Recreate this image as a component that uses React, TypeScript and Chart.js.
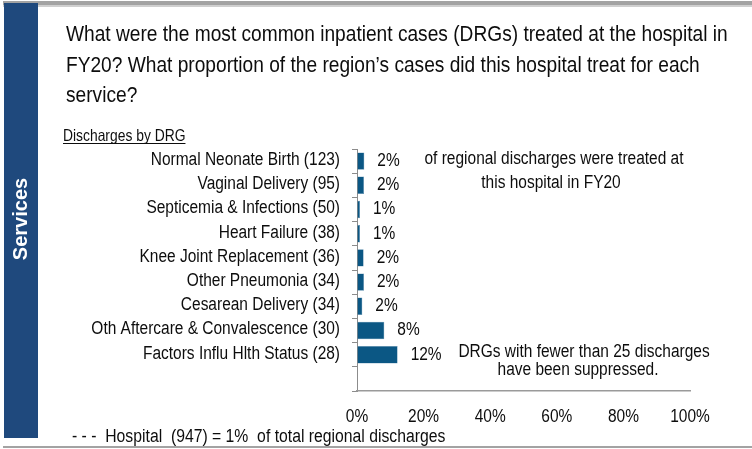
import React, { useEffect, useRef } from "react";
import { Chart, registerables } from "chart.js";

Chart.register(...registerables);

const categories = [
  "Normal Neonate Birth (123)",
  "Vaginal Delivery (95)",
  "Septicemia & Infections (50)",
  "Heart Failure (38)",
  "Knee Joint Replacement (36)",
  "Other Pneumonia (34)",
  "Cesarean Delivery (34)",
  "Oth Aftercare & Convalescence (30)",
  "Factors Influ Hlth Status (28)",
  "",
];
const shareOfRegion = [2.2, 2.1, 0.9, 0.9, 2.0, 2.1, 1.6, 8.2, 12.2, null];
const xTickValues = [0, 20, 40, 60, 80, 100];

const titleLines = [
  "What were the most common inpatient cases (DRGs) treated at the hospital in",
  "FY20? What proportion of the region\u2019s cases did this hospital treat for each",
  "service?",
];
const sectionLabel = "Services";
const subTitle = "Discharges by DRG";
const noteTop = ["of regional discharges were treated at", "this hospital in FY20"];
const noteBottom = ["DRGs with fewer than 25 discharges", "have been suppressed."];
const footer = "- - -  Hospital  (947) = 1%  of total regional discharges";

const SANS = '"Liberation Sans", Arial, sans-serif';
const TEXT = "#0d0d0d";
const BAR = "#0b5784";
const SIDE = "#1f497d";
const GRAY = "#a3a3a3";
const SX = 0.86;

function txt(
  ctx: CanvasRenderingContext2D,
  s: string,
  x: number,
  y: number,
  size: number,
  sx: number,
  align: CanvasTextAlign,
  baseline: CanvasTextBaseline
) {
  ctx.save();
  ctx.font = `${size}px ${SANS}`;
  ctx.textAlign = align;
  ctx.textBaseline = baseline;
  ctx.fillStyle = TEXT;
  ctx.translate(x, y);
  ctx.scale(sx, 1);
  ctx.fillText(s, 0, 0);
  const w = ctx.measureText(s).width * sx;
  ctx.restore();
  return w;
}

const decorPlugin = {
  id: "decor",
  beforeDraw(chart: any) {
    const ctx = chart.ctx;
    ctx.save();
    ctx.fillStyle = "#ffffff";
    ctx.fillRect(0, 0, chart.width, chart.height);
    ctx.fillStyle = GRAY;
    ctx.fillRect(3, 1, chart.width - 3, 4);
    ctx.fillStyle = "#cfcfcf";
    ctx.fillRect(3, 5, chart.width - 3, 2);
    ctx.fillStyle = GRAY;
    ctx.fillRect(3, 446, chart.width - 3, 2);
    ctx.fillStyle = SIDE;
    ctx.fillRect(4, 3, 34, 435);
    ctx.translate(21, 219);
    ctx.rotate(-Math.PI / 2);
    ctx.fillStyle = "#ffffff";
    ctx.font = `bold 20px ${SANS}`;
    ctx.textAlign = "center";
    ctx.textBaseline = "middle";
    ctx.fillText(sectionLabel, 0, 0);
    ctx.restore();
  },
  afterDraw(chart: any) {
    const ctx = chart.ctx;
    const titleBase = [41, 72, 102];
    titleLines.forEach((t, i) => txt(ctx, t, 66, titleBase[i], 22, 0.87, "left", "alphabetic"));
    const w = txt(ctx, subTitle, 63, 141, 16.5, 0.84, "left", "alphabetic");
    ctx.save();
    ctx.fillStyle = TEXT;
    ctx.fillRect(63, 143, w, 1);
    ctx.restore();
    const ys = chart.scales.y;
    categories.forEach((c, i) => {
      if (!c) return;
      txt(ctx, c, 340, ys.getPixelForTick(i) - 1, 18, SX, "right", "middle");
    });
    const xs = chart.scales.x;
    xTickValues.forEach((v) => {
      txt(ctx, v + "%", xs.getPixelForValue(v), 422, 18, SX, "center", "alphabetic");
    });
    const meta = chart.getDatasetMeta(0);
    meta.data.forEach((bar: any, i: number) => {
      const v = shareOfRegion[i];
      if (v === null || v === undefined) return;
      txt(ctx, Math.round(v) + "%", bar.x + 13, bar.y, 18, SX, "left", "middle");
    });
    txt(ctx, noteTop[0], 554, 159, 18, SX, "center", "middle");
    txt(ctx, noteTop[1], 551, 183, 18, SX, "center", "middle");
    txt(ctx, noteBottom[0], 584, 352, 18, SX, "center", "middle");
    txt(ctx, noteBottom[1], 578, 370, 18, SX, "center", "middle");
    txt(ctx, footer, 72, 442, 18, 0.875, "left", "alphabetic");
  },
};

export default function App() {
  const ref = useRef<HTMLCanvasElement | null>(null);
  useEffect(() => {
    document.body.style.margin = "0";
    if (!ref.current) return;
    const chart = new Chart(ref.current, {
      type: "bar",
      data: {
        labels: categories,
        datasets: [
          {
            data: shareOfRegion as any,
            backgroundColor: BAR,
            borderColor: "#5f8fae",
            borderWidth: 0.5,
            barPercentage: 0.72,
            categoryPercentage: 1,
          },
        ],
      },
      options: {
        responsive: false,
        animation: false,
        indexAxis: "y",
        layout: { padding: { left: 0, top: 149, right: 62, bottom: 28 } },
        plugins: { legend: { display: false }, tooltip: { enabled: false } },
        scales: {
          y: {
            type: "category",
            afterFit: (s: any) => {
              s.width = 357;
            },
            grid: {
              display: true,
              drawOnChartArea: false,
              drawTicks: true,
              tickLength: 5,
              offset: true,
              color: "#8c8c8c",
            },
            border: { display: true, color: "#8c8c8c", width: 1 },
            ticks: { display: false, autoSkip: false },
          },
          x: {
            type: "linear",
            min: 0,
            max: 100,
            afterFit: (s: any) => {
              s.height = 30;
            },
            afterBuildTicks: (s: any) => {
              s.ticks = xTickValues.map((v) => ({ value: v }));
            },
            grid: { display: true, drawOnChartArea: false, drawTicks: false },
            border: { display: true, color: "#9a9a9a", width: 1.5 },
            ticks: { display: false },
          },
        },
      },
      plugins: [decorPlugin],
    });
    return () => chart.destroy();
  }, []);
  return (
    <div style={{ position: "absolute", left: 0, top: 0, width: 752, height: 449, background: "#fff" }}>
      <canvas ref={ref} width={752} height={449} style={{ width: 752, height: 449, display: "block" }} />
    </div>
  );
}
